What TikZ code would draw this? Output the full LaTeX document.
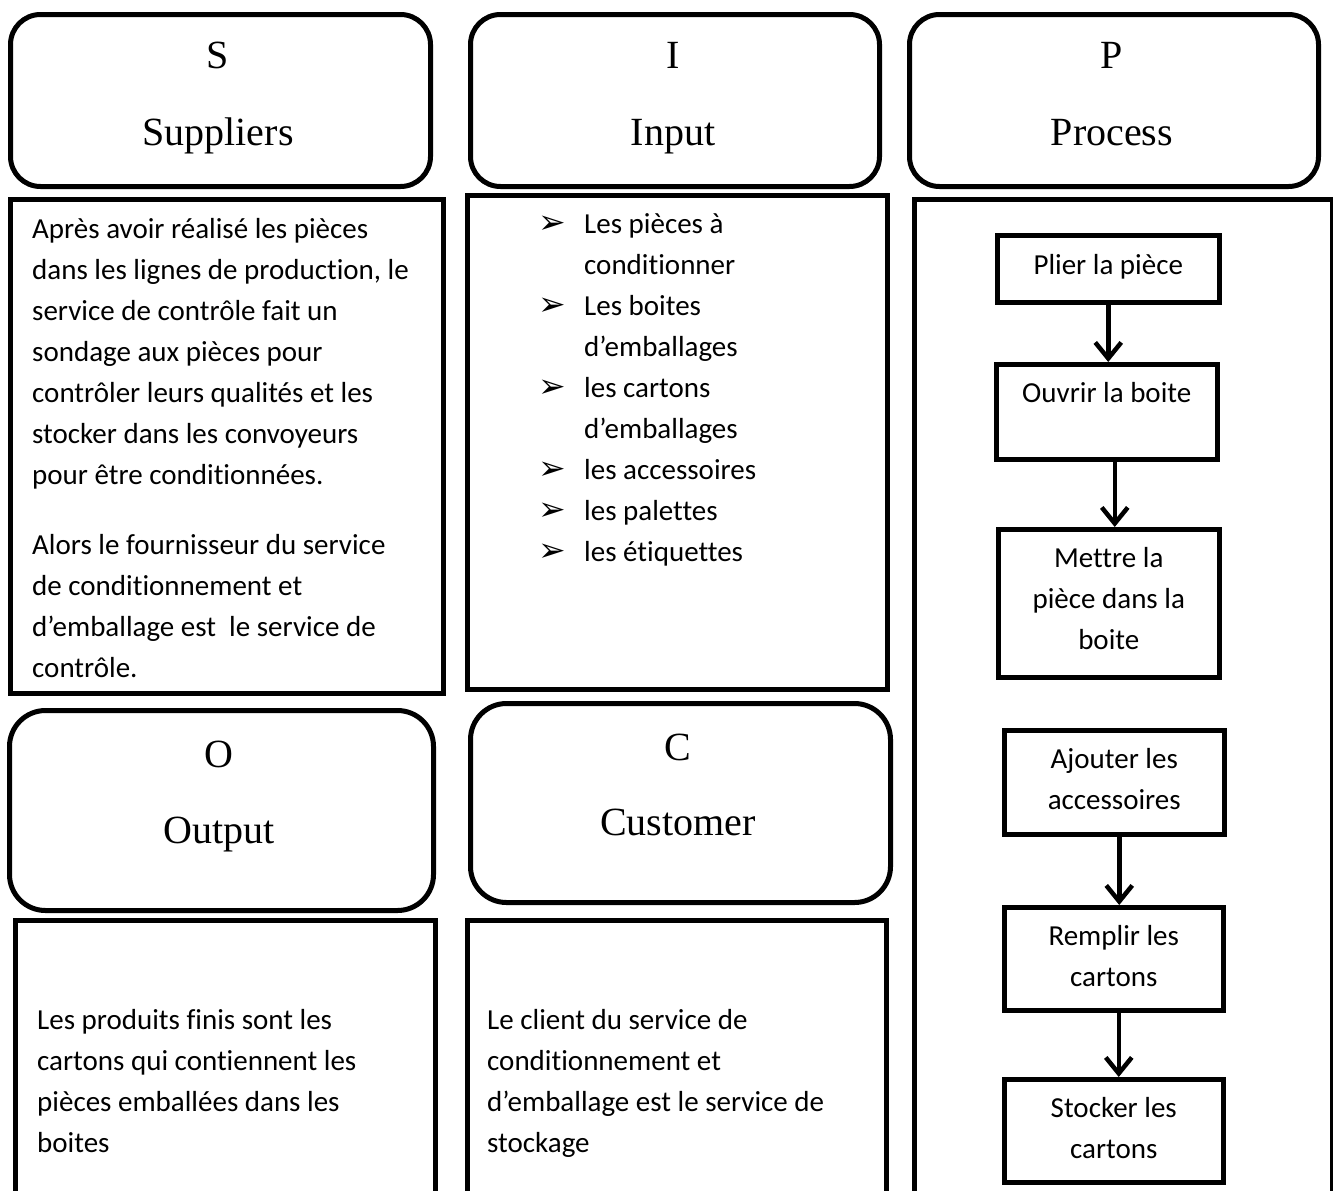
\documentclass[tikz,border=0pt]{standalone}
\usepackage{fontspec}
\setmainfont[Ligatures=NoCommon]{Carlito}
\newfontfamily\titlefont{Liberation Serif}
\newfontfamily\symfont{DejaVu Sans}
\usetikzlibrary{arrows.meta}
\newcommand{\txtblock}[2]{\parbox[t]{#1}{\raggedright #2}}
\newcommand{\ctrblock}[2]{\parbox[t]{#1}{\centering #2}}
\newcommand{\bul}{\makebox[46pt][l]{\symfont\fontsize{33}{41}\selectfont ➢}}
\newcommand{\ind}{\hspace*{46pt}}
\tikzset{
  rbox/.style={draw, line width=5pt, rounded corners=30pt, inner sep=0pt, anchor=north west},
  sbox/.style={draw, line width=4.5pt, inner sep=0pt, anchor=north west},
  pbox/.style={draw, line width=4.5pt, inner sep=0pt, anchor=north west},
  ttl/.style={font=\titlefont\fontsize{40}{48}\selectfont, inner sep=0pt, anchor=base},
  body/.style={font=\fontsize{29}{41}\selectfont, inner sep=0pt, anchor=base west},
  ptxt/.style={font=\fontsize{29}{41}\selectfont, inner sep=0pt, anchor=base},
  arr/.style={line width=4.5pt, -{Straight Barb[length=16pt,width=26pt]}}
}
\begin{document}
\begin{tikzpicture}[x=1pt,y=-1pt]
\clip (0,0) rectangle (1333,1191);
\fill[white] (0,0) rectangle (1333,1191);
% title boxes
\node[rbox, minimum width=420pt, minimum height=172pt] (Sbox) at (8,12) {};
\node[rbox, minimum width=409pt, minimum height=172pt] (Ibox) at (468,12) {};
\node[rbox, minimum width=409pt, minimum height=172pt] (Pbox) at (907,12) {};
\node[rbox, rounded corners=36pt, minimum width=424pt, minimum height=200pt] (Obox) at (7,708) {};
\node[rbox, rounded corners=36pt, minimum width=420pt, minimum height=199pt] (Cbox) at (468,701) {};
\node[ttl] (Sl) at (218,68) {S};
\node[ttl] (Sn) at (218,145) {Suppliers};
\node[ttl] (Il) at (673,68) {I};
\node[ttl] (In) at (673,145) {Input};
\node[ttl] (Pl) at (1112,68) {P};
\node[ttl] (Pn) at (1112,145) {Process};
\node[ttl] (Ol) at (219,767) {O};
\node[ttl] (On) at (219,843) {Output};
\node[ttl] (Cl) at (678,760) {C};
\node[ttl] (Cn) at (678,835) {Customer};
% body boxes
\node[sbox, minimum width=433pt, minimum height=494pt] (Sbody) at (8,197) {};
\node[sbox, minimum width=420pt, minimum height=494pt] (Ibody) at (465,193) {};
\node[sbox, minimum width=418pt, minimum height=1020pt] (Pbody) at (912,197) {};
\node[sbox, minimum width=420pt, minimum height=300pt] (Obody) at (13,918) {};
\node[sbox, minimum width=419pt, minimum height=300pt] (Cbody) at (465,918) {};
% body texts
\node[body] (Stext) at (32,238) {\txtblock{400pt}{Après avoir réalisé les pièces\\
dans les lignes de production, le\\
service de contrôle fait un\\
sondage aux pièces pour\\
contrôler leurs qualités et les\\
stocker dans les convoyeurs\\
pour être conditionnées.\\[29pt]
Alors le fournisseur du service\\
de conditionnement et\\
d’emballage est~ le service de\\
contrôle.}};
\node[body] (Itext) at (538,233) {\txtblock{330pt}{\bul Les pièces à\\
\ind conditionner\\
\bul Les boites\\
\ind d’emballages\\
\bul les cartons\\
\ind d’emballages\\
\bul les accessoires\\
\bul les palettes\\
\bul les étiquettes}};
\node[body] (Otext) at (37,1029) {\txtblock{390pt}{Les produits finis sont les\\
cartons qui contiennent les\\
pièces emballées dans les\\
boites}};
\node[body] (Ctext) at (487,1029) {\txtblock{390pt}{Le client du service de\\
conditionnement et\\
d’emballage est le service de\\
stockage}};
% process boxes
\node[pbox, minimum width=222pt, minimum height=67pt] (plier) at (995,233) {};
\node[pbox, minimum width=221pt, minimum height=95pt] (ouvrir) at (994,362) {};
\node[pbox, minimum width=221pt, minimum height=148pt] (mettre) at (996,527) {};
\node[pbox, minimum width=220pt, minimum height=104pt] (ajouter) at (1002,728) {};
\node[pbox, minimum width=219pt, minimum height=103pt] (remplir) at (1002,905) {};
\node[pbox, minimum width=219pt, minimum height=103pt] (stocker) at (1002,1077) {};
\node[ptxt] (plierT) at (plier.center |- 0,274) {Plier la pièce};
\node[ptxt] (ouvrirT) at (ouvrir.center |- 0,402) {Ouvrir la boite};
\node[ptxt] (mettreT) at (mettre.center |- 0,567) {\ctrblock{200pt}{Mettre la\\ pièce dans la\\ boite}};
\node[ptxt] (ajouterT) at (ajouter.center |- 0,768) {\ctrblock{200pt}{Ajouter les\\ accessoires}};
\node[ptxt] (remplirT) at (remplir.center |- 0,945) {\ctrblock{200pt}{Remplir les\\ cartons}};
\node[ptxt] (stockerT) at (stocker.center |- 0,1117) {\ctrblock{200pt}{Stocker les\\ cartons}};
% arrows
\draw[arr] (plier.south) -- (plier.south |- ouvrir.north);
\draw[arr] ([xshift=8pt]ouvrir.south) -- ([xshift=8pt]ouvrir.south |- mettre.north);
\draw[arr] ([xshift=5pt]ajouter.south) -- ([xshift=5pt]ajouter.south |- remplir.north);
\draw[arr] ([xshift=5pt]remplir.south) -- ([xshift=5pt]remplir.south |- stocker.north);
\end{tikzpicture}
\end{document}
